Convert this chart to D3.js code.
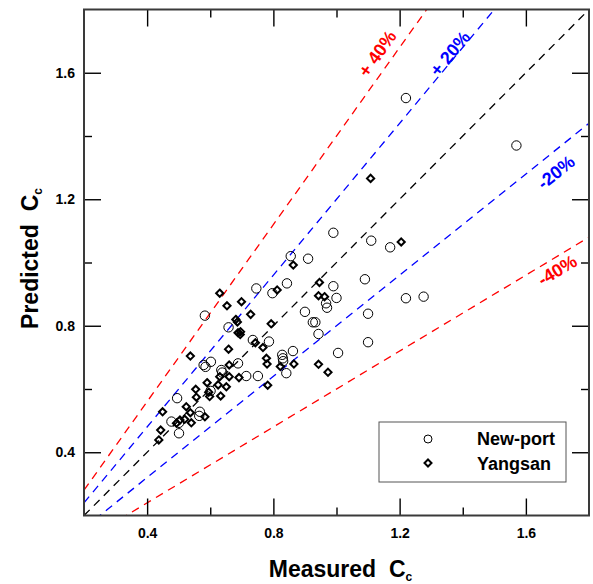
<!DOCTYPE html>
<html>
<head>
<meta charset="utf-8">
<script src="https://cdn.jsdelivr.net/npm/d3@7"></script>
<style>
  body { margin: 0; background: #fff; }
  svg { font-family: Arial, "Liberation Sans", sans-serif; }
  text { white-space: pre; }
</style>
</head>
<body>
<svg class="ccChart"></svg>
<script>
// measured / predicted Cc
var newportMeasured = [1.22, 1.57, 0.99, 1.11, 1.17, 0.91, 0.855, 0.99, 1.09, 1.00, 0.967, 0.97, 0.90, 0.925, 0.933,
  1.10, 1.22, 1.276, 0.943, 1.10, 1.005, 0.746, 0.797, 0.843, 0.735, 0.786, 0.862, 0.828, 0.83, 0.831, 0.841,
  0.714, 0.751, 0.583, 0.658, 0.579, 0.602, 0.688, 0.635, 0.638, 0.601, 0.495, 0.477, 0.565, 0.501, 0.501, 0.567, 0.585];
var newportPredicted = [1.52, 1.37, 1.094, 1.069, 1.048, 1.012, 1.02, 0.925, 0.947, 0.888, 0.871, 0.857, 0.844, 0.811, 0.811,
  0.838, 0.887, 0.892, 0.774, 0.748, 0.714, 0.918, 0.903, 0.934, 0.755, 0.75, 0.72, 0.708, 0.697, 0.688, 0.65,
  0.641, 0.641, 0.832, 0.795, 0.676, 0.686, 0.681, 0.66, 0.652, 0.594, 0.571, 0.497, 0.515, 0.493, 0.46, 0.528, 0.67];

var yangsanMeasured = [1.108, 1.205, 0.863, 0.946, 0.943, 0.962, 0.943, 0.973, 0.812, 0.699, 0.728, 0.793, 0.696,
  0.743, 0.767, 0.778, 0.780, 0.865, 0.822, 0.782, 0.630, 0.653, 0.681, 0.686, 0.688, 0.695, 0.658, 0.537, 0.660,
  0.691, 0.660, 0.630, 0.590, 0.625, 0.651, 0.595, 0.598, 0.633, 0.554, 0.556, 0.524, 0.537, 0.540, 0.504, 0.493,
  0.519, 0.583, 0.449, 0.443, 0.437];
var yangsanPredicted = [1.266, 1.065, 0.992, 0.937, 0.895, 0.892, 0.678, 0.653, 0.913, 0.876, 0.836, 0.806, 0.781,
  0.746, 0.731, 0.697, 0.679, 0.679, 0.671, 0.612, 0.903, 0.863, 0.820, 0.812, 0.778, 0.772, 0.726, 0.704, 0.676,
  0.636, 0.639, 0.639, 0.620, 0.613, 0.607, 0.590, 0.576, 0.578, 0.599, 0.574, 0.544, 0.525, 0.493, 0.502, 0.492,
  0.504, 0.512, 0.528, 0.470, 0.439];

var majorTicks = [0.4, 0.8, 1.2, 1.6];
var minorTicks = [0.6, 1.0, 1.4];

// ratio lines: 1:1, +/-20%, +/-40%
var ratioValues = [1.0, 1.2, 0.8, 1.4, 0.6];
var ratioColors = ["#000", "#0000ff", "#0000ff", "#ff0000", "#ff0000"];
var ratioLabels = ["", "+ 20%", "-20%", "+ 40%", "-40%"];

var svgWidth = 593, svgHeight = 584;
var margin = { top: 9.5, right: 4, bottom: 68.5, left: 84 };

var svg = d3.select("svg.ccChart")
  .attr("width", svgWidth)
  .attr("height", svgHeight);

var x = d3.scaleLinear().domain([0.2, 1.8]).range([margin.left, svgWidth - margin.right]);
var y = d3.scaleLinear().domain([0.2, 1.8]).range([svgHeight - margin.bottom, margin.top]);

svg.append("defs").append("clipPath").attr("id", "plotClip")
  .append("rect")
  .attr("x", x(0.2)).attr("y", y(1.8))
  .attr("width", x(1.8) - x(0.2)).attr("height", y(0.2) - y(1.8));

// ratio lines
var lines = svg.append("g").attr("clip-path", "url(#plotClip)");
ratioValues.forEach(function(r, i) {
  lines.append("line")
    .attr("x1", x(0.2)).attr("y1", y(0.2 * r))
    .attr("x2", x(1.8)).attr("y2", y(1.8 * r))
    .attr("stroke", ratioColors[i])
    .attr("stroke-width", 1.3)
    .attr("stroke-dasharray", "8,6");
});

// labels along the lines (anchor point in data units)
var labelAt = { "+ 40%": [1.13, 1.66], "+ 20%": [1.36, 1.66], "-20%": [1.696, 1.285], "-40%": [1.70, 0.975] };
ratioValues.forEach(function(r, i) {
  if (!ratioLabels[i]) return;
  var p = labelAt[ratioLabels[i]];
  var ang = Math.atan2(y(0.2 * r) - y(1.8 * r), x(1.8) - x(0.2)) * 180 / Math.PI;
  svg.append("text")
    .attr("transform", "translate(" + x(p[0]) + "," + y(p[1]) + ") rotate(" + (-ang) + ")")
    .attr("text-anchor", "middle")
    .attr("dominant-baseline", "central")
    .attr("fill", ratioColors[i])
    .attr("font-size", 18)
    .attr("font-weight", "bold")
    .text(ratioLabels[i]);
});

// points
var newport = newportMeasured.map(function(m, i) { return { m: m, p: newportPredicted[i] }; });
var yangsan = yangsanMeasured.map(function(m, i) { return { m: m, p: yangsanPredicted[i] }; });

var diamond = function(s) { return "M0," + (-s) + "L" + s + ",0L0," + s + "L" + (-s) + ",0Z"; };

svg.append("g").selectAll("circle")
  .data(newport)
  .enter().append("circle")
    .attr("cx", function(d) { return x(d.m); })
    .attr("cy", function(d) { return y(d.p); })
    .attr("r", 4.7)
    .attr("fill", "none")
    .attr("stroke", "#000")
    .attr("stroke-width", 1);

svg.append("g").selectAll("path")
  .data(yangsan)
  .enter().append("path")
    .attr("transform", function(d) { return "translate(" + x(d.m) + "," + y(d.p) + ")"; })
    .attr("d", diamond(3.6))
    .attr("fill", "none")
    .attr("stroke", "#000")
    .attr("stroke-width", 2);

// axes, ticks pointing inward
function drawAxis(axisFn, transform, values, size, pad) {
  var a = axisFn.tickValues(values).tickSize(-size).tickPadding(pad || 0)
    .tickFormat(pad ? d3.format(".1f") : "");
  var g = svg.append("g").attr("transform", transform).call(a);
  g.select(".domain").remove();
  g.selectAll(".tick line").attr("stroke", "#000").attr("stroke-width", 1.4);
  g.selectAll(".tick text").attr("font-size", 14).attr("font-weight", "bold").attr("fill", "#000")
    .attr("font-family", "Arial, 'Liberation Sans', sans-serif");
  return g;
}
drawAxis(d3.axisBottom(x), "translate(0," + y(0.2) + ")", majorTicks, 17, 13);
drawAxis(d3.axisBottom(x), "translate(0," + y(0.2) + ")", minorTicks, 8);
drawAxis(d3.axisTop(x), "translate(0," + y(1.8) + ")", majorTicks, 17);
drawAxis(d3.axisTop(x), "translate(0," + y(1.8) + ")", minorTicks, 8);
drawAxis(d3.axisLeft(y), "translate(" + x(0.2) + ",0)", majorTicks, 17, 9);
drawAxis(d3.axisLeft(y), "translate(" + x(0.2) + ",0)", minorTicks, 8);
drawAxis(d3.axisRight(y), "translate(" + x(1.8) + ",0)", majorTicks, 17);
drawAxis(d3.axisRight(y), "translate(" + x(1.8) + ",0)", minorTicks, 8);

svg.append("rect")
  .attr("x", x(0.2)).attr("y", y(1.8))
  .attr("width", x(1.8) - x(0.2)).attr("height", y(0.2) - y(1.8))
  .attr("fill", "none").attr("stroke", "#3a3a3a").attr("stroke-width", 2);

// axis titles
var xt = svg.append("text")
  .attr("x", (x(0.2) + x(1.8)) / 2 + 4).attr("y", 577)
  .attr("text-anchor", "middle").attr("font-size", 23).attr("font-weight", "bold");
xt.append("tspan").text("Measured  C");
xt.append("tspan").attr("font-size", 12).attr("dy", 4).text("c");

var yt = svg.append("text")
  .attr("transform", "translate(38," + ((y(0.2) + y(1.8)) / 2 - 4) + ") rotate(-90)")
  .attr("text-anchor", "middle").attr("font-size", 23).attr("font-weight", "bold");
yt.append("tspan").text("Predicted  C");
yt.append("tspan").attr("font-size", 12).attr("dy", 4).text("c");

// legend
var lg = svg.append("g");
lg.append("rect")
  .attr("x", 379).attr("y", 422).attr("width", 187).attr("height", 60)
  .attr("fill", "#fff").attr("stroke", "#555").attr("stroke-width", 1);
lg.append("circle").attr("cx", 428).attr("cy", 439).attr("r", 4)
  .attr("fill", "none").attr("stroke", "#000").attr("stroke-width", 1);
lg.append("path").attr("transform", "translate(428,463)").attr("d", diamond(3.5))
  .attr("fill", "none").attr("stroke", "#000").attr("stroke-width", 2);
lg.append("text").attr("x", 477).attr("y", 445).attr("font-size", 18).attr("font-weight", "bold").text("New-port");
lg.append("text").attr("x", 477).attr("y", 470).attr("font-size", 18).attr("font-weight", "bold").text("Yangsan");
</script>
</body>
</html>
